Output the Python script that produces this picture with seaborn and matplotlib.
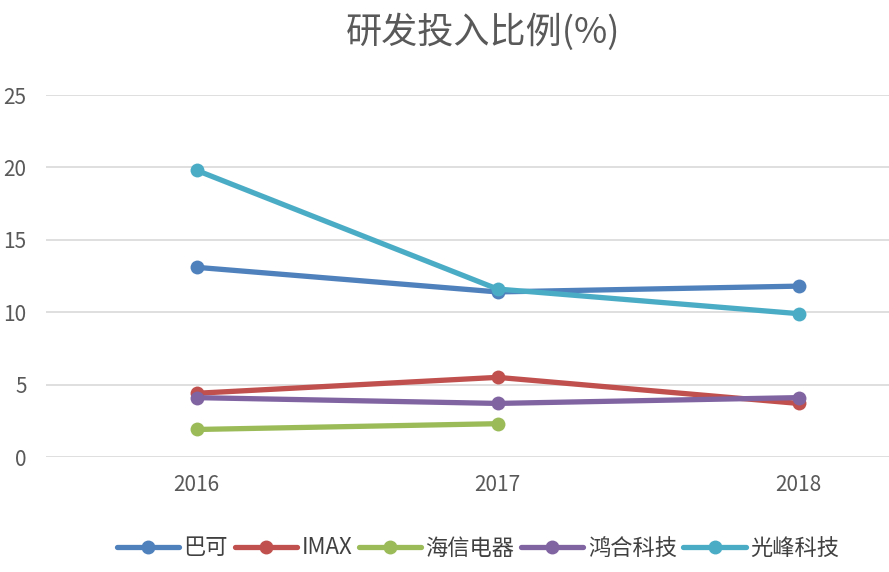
import pandas as pd
import matplotlib.pyplot as plt
import seaborn as sns

years = ["2016", "2017", "2018"]
barco = [13.1, 11.4, 11.8]
imax = [4.4, 5.5, 3.7]
hisense = [1.9, 2.3, None]
honghe = [4.1, 3.7, 4.1]
appotronics = [19.8, 11.6, 9.9]

names = ["巴可", "IMAX", "海信电器", "鸿合科技", "光峰科技"]
series = [barco, imax, hisense, honghe, appotronics]
colors = ["#4F81BD", "#C0504D", "#9BBB59", "#8064A2", "#4BACC6"]

rows = []
for name, vals in zip(names, series):
    for i, v in enumerate(vals):
        if v is not None:
            rows.append({"pos": i, "company": name, "value": v})
df = pd.DataFrame(rows)

sns.set_style("white")
plt.rcParams["font.family"] = ["Noto Sans CJK SC", "DejaVu Sans"]

fig = plt.figure(figsize=(8.89, 5.72), dpi=100)
ax = fig.add_axes([46 / 889, 115 / 572, 903 / 889, 362 / 572])

sns.lineplot(data=df, x="pos", y="value", hue="company", hue_order=names,
             palette=colors, marker="o", markersize=10, markeredgewidth=0,
             linewidth=3.8, ax=ax, legend=False)

ax.set_xlim(-0.5, 2.5)
ax.set_ylim(0, 25)
ax.set_yticks([0, 5, 10, 15, 20, 25])
ax.set_xticks(range(len(years)))
ax.set_xticklabels(years)
ax.yaxis.grid(True, color="#D9D9D9", linewidth=1.2)
ax.set_axisbelow(True)
for s in ax.spines.values():
    s.set_visible(False)
ax.set_xlabel("")
ax.set_ylabel("")
ax.tick_params(axis="both", length=0, colors="#595959", labelsize=15)
ax.tick_params(axis="y", pad=14)
ax.tick_params(axis="x", pad=12)

fig.text(483 / 889, 1 - 32 / 572, "研发投入比例(%)", ha="center", va="center",
         fontsize=26, color="#595959")

handles = [plt.Line2D([], [], color=c, linewidth=3.8, marker="o", markersize=9)
           for c in colors]
fig.legend(handles, names, loc="center", bbox_to_anchor=(478 / 889, 1 - 548 / 572),
           ncol=5, frameon=False, fontsize=16, handlelength=2.8,
           handletextpad=0.2, columnspacing=0.3, labelcolor="#404040")

fig.savefig("out.png", dpi=100)
